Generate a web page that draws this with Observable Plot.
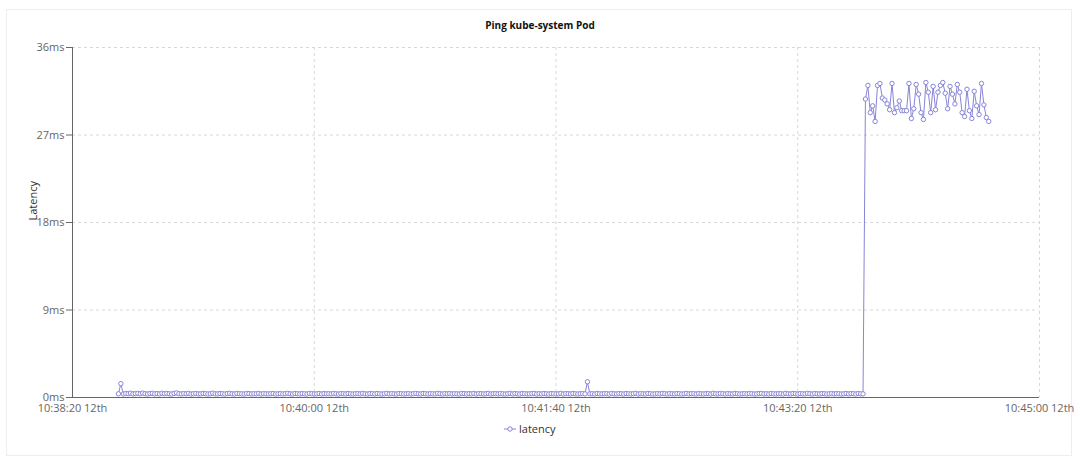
<!DOCTYPE html>
<html>
<head>
<meta charset="utf-8">
<script src="https://cdn.jsdelivr.net/npm/d3@7"></script>
<script src="https://cdn.jsdelivr.net/npm/@observablehq/plot@0.6"></script>
<style>
  html, body { margin: 0; padding: 0; background: #fff; }
  body { width: 1080px; height: 467px; position: relative; overflow: hidden; font-family: "Open Sans", "Noto Sans", sans-serif; }
  #card { position: absolute; left: 6px; top: 9px; width: 1066px; height: 447px; border: 1px solid #eee; box-sizing: border-box; }
  #title { position: absolute; left: 0; top: 17px; width: 1080px; text-align: center; font-size: 10px; font-weight: bold; line-height: 16px; color: #111; }
  #chart { position: absolute; left: 0; top: 37px; }
  #legend { position: absolute; left: 504px; top: 420px; height: 18px; line-height: 18px; font-size: 11px; color: #333; display: flex; align-items: center; }
  #legend svg { margin-right: 3px; }
</style>
</head>
<body>
<div id="card"></div>
<div id="title">Ping kube-system Pod</div>
<div id="chart"></div>
<div id="legend"><svg width="12" height="10"><line x1="0" y1="5" x2="12" y2="5" stroke="#8884d8" stroke-width="1"/><circle cx="6" cy="5" r="2.2" fill="#fff" stroke="#8884d8"/></svg>latency</div>
<script>
// ---- data ----
const startTime = "2023-06-12T10:38:39Z";   // first sample
const sampleIntervalSeconds = 1;
const xDomain = ["2023-06-12T10:38:20Z", "2023-06-12T10:45:00Z"];
const xTicks = ["2023-06-12T10:38:20Z", "2023-06-12T10:40:00Z", "2023-06-12T10:41:40Z", "2023-06-12T10:43:20Z", "2023-06-12T10:45:00Z"];
const xTickSuffix = " 12th";
const yTicks = [0, 9, 18, 27, 36];
const yUnit = "ms";

// latency in ms, before the jump
const latencyLow = [
  0.38,1.42,0.36,0.41,0.39,0.44,0.37,0.40,0.42,0.38,0.45,0.39,0.36,0.41,0.43,0.38,0.40,0.37,0.44,0.39,
  0.41,0.38,0.36,0.42,0.47,0.39,0.37,0.40,0.38,0.43,0.36,0.39,0.41,0.37,0.38,0.42,0.40,0.36,0.39,0.44,
  0.38,0.37,0.41,0.39,0.36,0.40,0.43,0.38,0.37,0.42,0.39,0.38,0.36,0.41,0.40,0.37,0.39,0.38,0.42,0.36,
  0.40,0.38,0.37,0.39,0.41,0.36,0.38,0.40,0.37,0.39,0.43,0.38,0.36,0.41,0.39,0.37,0.40,0.38,0.36,0.42,
  0.39,0.37,0.38,0.41,0.36,0.40,0.38,0.39,0.37,0.42,0.38,0.36,0.40,0.39,0.37,0.41,0.38,0.36,0.39,0.40,
  0.37,0.42,0.38,0.36,0.40,0.39,0.37,0.41,0.38,0.36,0.39,0.43,0.37,0.40,0.38,0.36,0.41,0.39,0.37,0.38,
  0.40,0.36,0.39,0.42,0.38,0.37,0.41,0.39,0.36,0.40,0.38,0.37,0.43,0.39,0.36,0.40,0.38,0.41,0.37,0.39,
  0.38,0.36,0.42,0.40,0.37,0.39,0.38,0.41,0.36,0.40,0.39,0.37,0.38,0.42,0.36,0.39,0.40,0.37,0.41,0.38,
  0.36,0.39,0.43,0.37,0.40,0.38,0.36,0.41,0.39,0.37,0.38,0.40,0.42,0.36,0.39,0.37,0.41,0.38,0.36,0.40,
  0.39,0.37,0.38,0.42,0.36,0.40,0.39,0.37,0.41,0.38,0.36,0.39,0.40,0.37,1.62,0.38,0.39,0.36,0.41,0.38,
  0.37,0.40,0.39,0.36,0.42,0.38,0.37,0.40,0.39,0.36,0.41,0.38,0.37,0.39,0.43,0.36,0.40,0.38,0.37,0.41,
  0.39,0.36,0.38,0.40,0.37,0.42,0.39,0.36,0.41,0.38,0.37,0.40,0.39,0.36,0.38,0.42,0.37,0.40,0.39,0.36,
  0.41,0.38,0.37,0.39,0.40,0.36,0.43,0.38,0.37,0.41,0.39,0.36,0.40,0.38,0.37,0.42,0.39,0.36,0.38,0.40,
  0.37,0.41,0.39,0.36,0.38,0.40,0.42,0.37,0.39,0.36,0.41,0.38,0.37,0.40,0.39,0.36,0.43,0.38,0.37,0.41,
  0.39,0.36,0.40,0.38,0.37,0.42,0.39,0.36,0.41,0.38,0.37,0.40,0.39,0.36,0.38,0.41,0.37,0.40,0.39,0.36,
  0.38,0.41,0.37,0.40,0.39,0.36,0.42,0.38,0.37
];
// latency in ms, after the jump
const latencyHigh = [
  30.7,32.1,29.3,30.0,28.4,32.1,32.3,30.8,30.6,30.2,29.6,32.3,29.3,29.8,30.5,29.5,29.5,29.5,32.3,28.7,
  29.7,32.2,31.2,29.3,28.6,32.4,31.4,29.3,32.0,29.6,31.4,32.1,32.4,31.3,29.7,32.0,31.2,30.2,32.2,31.4,
  29.3,28.9,31.7,29.5,28.7,31.5,30.0,29.1,32.3,30.1,28.8,28.4
];

// ---- build table ----
const latency = latencyLow.concat(latencyHigh);
const t0 = new Date(startTime).getTime();
const rows = latency.map((v, i) => ({ time: new Date(t0 + i * sampleIntervalSeconds * 1000), latency: v }));
const dom = xDomain.map(d => new Date(d));
const ticks = xTicks.map(d => new Date(d));
const fmt = d3.utcFormat("%H:%M:%S");
const color = "#8884d8";
const gridStyle = { stroke: "#d8d8d8", strokeOpacity: 1, strokeDasharray: "3,3" };

const chart = Plot.plot({
  width: 1080,
  height: 380,
  marginTop: 10,
  marginBottom: 20,
  marginLeft: 72,
  marginRight: 41,
  style: { fontFamily: "'Open Sans', 'Noto Sans', sans-serif", fontSize: "11px", color: "#666", background: "transparent", overflow: "visible" },
  x: { type: "utc", domain: dom },
  y: { domain: [0, 36] },
  marks: [
    Plot.gridY(yTicks, gridStyle),
    Plot.gridX(ticks, gridStyle),
    Plot.axisY(yTicks, { tickSize: 6, tickPadding: 2, tickFormat: d => d + yUnit, label: null }),
    Plot.axisX(ticks, { tickSize: 0, tickPadding: 7, tickFormat: d => fmt(d) + xTickSuffix, label: null }),
    Plot.ruleX([dom[0]], { stroke: "#666" }),
    Plot.ruleY([0], { stroke: "#666" }),
    Plot.line(rows, { x: "time", y: "latency", stroke: color, strokeWidth: 1 }),
    Plot.dot(rows, { x: "time", y: "latency", r: 2.2, fill: "#fff", stroke: color, strokeWidth: 1 }),
    Plot.text(["Latency"], { frameAnchor: "left", rotate: -90, dx: -39, dy: -2, fill: "#333", fontSize: 11 })
  ]
});
document.getElementById("chart").appendChild(chart);
</script>
</body>
</html>
